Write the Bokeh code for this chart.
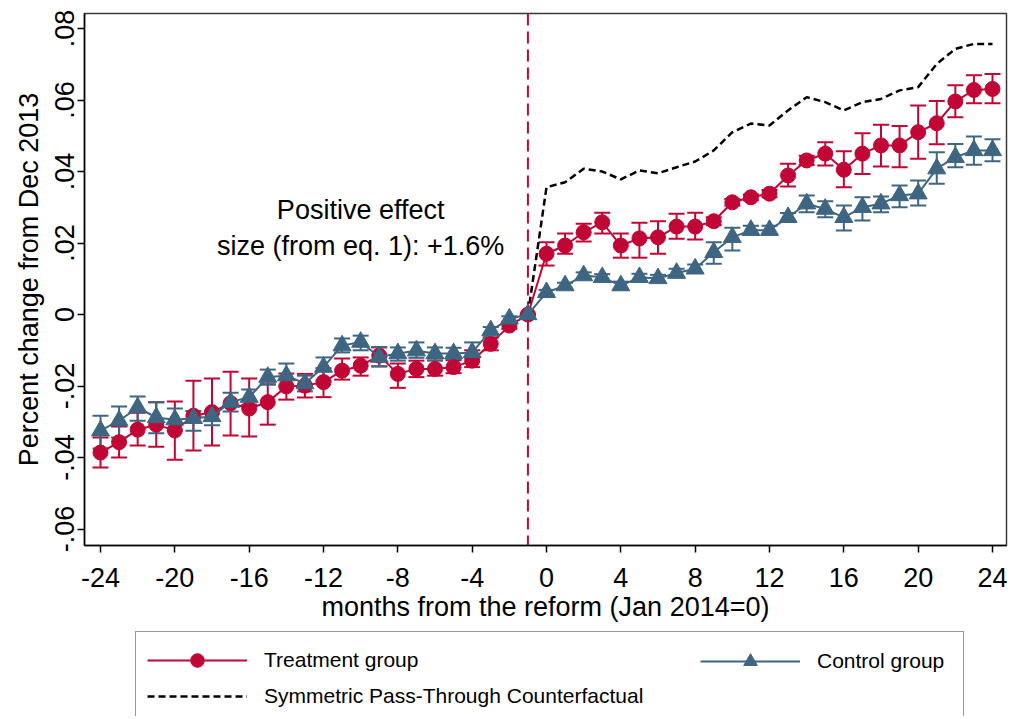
from bokeh.plotting import figure
from bokeh.layouts import column
from bokeh.models import (ColumnDataSource, Range1d, FixedTicker, CustomJSTickFormatter,
                          Whisker, TeeHead, Span, Label, Legend, LegendItem)
from bokeh.embed import file_html
from bokeh.resources import INLINE

# ---------------- data ----------------
months = list(range(-24, 25))

treat = [-0.0386, -0.0357, -0.0322, -0.0308, -0.0324, -0.0283, -0.0273, -0.0248, -0.0263, -0.0245,
         -0.0201, -0.0199, -0.0189, -0.0157, -0.0143, -0.0115, -0.0166, -0.0152, -0.0152, -0.0147,
         -0.0129, -0.0082, -0.0031, 0.0,
         0.0170, 0.0193, 0.0230, 0.0258, 0.0193, 0.0213, 0.0216, 0.0246, 0.0246, 0.0261,
         0.0314, 0.0328, 0.0338, 0.0389, 0.0431, 0.0450, 0.0405, 0.0450, 0.0473, 0.0473,
         0.0510, 0.0535, 0.0596, 0.0628, 0.0631]
treat_lo = [-0.0428, -0.0400, -0.0366, -0.0370, -0.0406, -0.0380, -0.0366, -0.0338, -0.0341, -0.0308,
            -0.0238, -0.0232, -0.0231, -0.0182, -0.0171, -0.0145, -0.0205, -0.0175, -0.0171, -0.0164,
            -0.0147, -0.0100, -0.0040, 0.0,
            0.0137, 0.0170, 0.0204, 0.0227, 0.0159, 0.0159, 0.0170, 0.0212, 0.0210, 0.0250,
            0.0305, 0.0320, 0.0328, 0.0358, 0.0418, 0.0417, 0.0356, 0.0393, 0.0414, 0.0412,
            0.0436, 0.0476, 0.0552, 0.0591, 0.0591]
treat_hi = [-0.0344, -0.0313, -0.0275, -0.0245, -0.0243, -0.0185, -0.0179, -0.0160, -0.0179, -0.0195,
            -0.0165, -0.0166, -0.0150, -0.0123, -0.0120, -0.0092, -0.0137, -0.0129, -0.0123, -0.0128,
            -0.0100, -0.0064, -0.0022, 0.0,
            0.0202, 0.0227, 0.0254, 0.0285, 0.0227, 0.0257, 0.0261, 0.0282, 0.0285, 0.0272,
            0.0323, 0.0336, 0.0348, 0.0422, 0.0444, 0.0482, 0.0457, 0.0507, 0.0531, 0.0527,
            0.0585, 0.0597, 0.0641, 0.0669, 0.0673]

control = [-0.0325, -0.0297, -0.0260, -0.0288, -0.0294, -0.0290, -0.0285, -0.0245, -0.0231, -0.0175,
           -0.0171, -0.0193, -0.0147, -0.0087, -0.0077, -0.0119, -0.0109, -0.0101, -0.0109, -0.0109,
           -0.0106, -0.0045, -0.0012, 0.0,
           0.0062, 0.0081, 0.0109, 0.0104, 0.0081, 0.0104, 0.0101, 0.0116, 0.0128, 0.0174,
           0.0216, 0.0236, 0.0236, 0.0272, 0.0310, 0.0295, 0.0272, 0.0300, 0.0310, 0.0333,
           0.0338, 0.0408, 0.0440, 0.0459, 0.0459]
control_lo = [-0.0375, -0.0344, -0.0297, -0.0332, -0.0325, -0.0325, -0.0310, -0.0271, -0.0252, -0.0196,
              -0.0199, -0.0215, -0.0185, -0.0106, -0.0100, -0.0145, -0.0129, -0.0121, -0.0129, -0.0125,
              -0.0120, -0.0055, -0.0020, 0.0,
              0.0055, 0.0073, 0.0100, 0.0095, 0.0070, 0.0094, 0.0091, 0.0104, 0.0116, 0.0142,
              0.0179, 0.0224, 0.0224, 0.0260, 0.0286, 0.0272, 0.0235, 0.0263, 0.0286, 0.0300,
              0.0305, 0.0366, 0.0412, 0.0419, 0.0429]
control_hi = [-0.0283, -0.0257, -0.0229, -0.0245, -0.0263, -0.0270, -0.0270, -0.0219, -0.0210, -0.0154,
              -0.0137, -0.0171, -0.0120, -0.0067, -0.0059, -0.0091, -0.0092, -0.0078, -0.0092, -0.0093,
              -0.0078, -0.0035, -0.0005, 0.0,
              0.0069, 0.0089, 0.0118, 0.0113, 0.0092, 0.0114, 0.0111, 0.0128, 0.0140, 0.0202,
              0.0243, 0.0248, 0.0248, 0.0284, 0.0333, 0.0317, 0.0305, 0.0328, 0.0330, 0.0361,
              0.0375, 0.0454, 0.0477, 0.0498, 0.0490]

cf_months = list(range(-1, 25))
counterfactual = [0.0, 0.0356, 0.0370, 0.0408, 0.0400, 0.0378, 0.0403, 0.0395, 0.0412, 0.0428,
                  0.0459, 0.0510, 0.0534, 0.0529, 0.0571, 0.0608, 0.0594, 0.0571, 0.0594, 0.0603,
                  0.0627, 0.0636, 0.0701, 0.0743, 0.0757, 0.0757]

x_ticks = [-24, -20, -16, -12, -8, -4, 0, 4, 8, 12, 16, 20, 24]
y_ticks = [-0.06, -0.04, -0.02, 0.0, 0.02, 0.04, 0.06, 0.08]
reform_month = -1

# ---------------- style ----------------
RED = "#C10534"
BLUE = "#3E6581"
FONT = "Liberation Sans"
W = 1008

src_t = ColumnDataSource(dict(m=months, y=treat, lo=treat_lo, hi=treat_hi))
src_c = ColumnDataSource(dict(m=months, y=control, lo=control_lo, hi=control_hi))
src_cf = ColumnDataSource(dict(m=cf_months, y=counterfactual))

p = figure(width=W, height=628, output_backend="svg", toolbar_location=None,
           x_range=Range1d(-24.861, 24.753), y_range=Range1d(-0.0646, 0.0842),
           min_border_left=84, min_border_right=2, min_border_top=13, min_border_bottom=83)
p.xgrid.visible = False
p.ygrid.visible = False
p.outline_line_color = "#3a3a3a"
p.outline_line_width = 1.5
p.background_fill_color = "white"
p.border_fill_color = "white"

for ax in (p.xaxis[0], p.yaxis[0]):
    ax.axis_line_color = "black"
    ax.axis_line_width = 1.5
    ax.major_tick_line_color = "black"
    ax.major_tick_line_width = 1.5
    ax.major_tick_out = 7
    ax.major_tick_in = 0
    ax.minor_tick_line_color = None
    ax.major_label_text_font = FONT
    ax.major_label_text_font_size = "27px"
    ax.major_label_text_color = "black"
    ax.axis_label_text_font = FONT
    ax.axis_label_text_font_size = "27px"
    ax.axis_label_text_font_style = "normal"
    ax.axis_label_text_color = "black"

p.xaxis.ticker = FixedTicker(ticks=x_ticks)
p.xaxis.formatter = CustomJSTickFormatter(code="return Math.round(tick).toString();")
p.xaxis.axis_label = "months from the reform (Jan 2014=0)"
p.xaxis.major_label_standoff = 15
p.xaxis.axis_label_standoff = 2

p.yaxis.ticker = FixedTicker(ticks=y_ticks)
p.yaxis.formatter = CustomJSTickFormatter(code="""
    const v = Math.round(tick * 100) / 100;
    if (v === 0) { return "0"; }
    const s = Math.abs(v).toFixed(2).replace(/^0/, "");
    return (v < 0 ? "-" : "") + s;
""")
p.yaxis.major_label_orientation = "parallel"
p.yaxis.axis_label = "Percent change from Dec 2013"
p.yaxis.major_label_standoff = 3
p.yaxis.axis_label_standoff = 9

p.add_layout(Span(location=reform_month, dimension="height", line_color=RED,
                  line_width=2, line_dash="12 6", level="underlay"))

for src, col in ((src_t, RED), (src_c, BLUE)):
    p.add_layout(Whisker(source=src, base="m", lower="lo", upper="hi", dimension="height",
                         line_color=col, line_width=2,
                         lower_head=TeeHead(size=16, line_color=col, line_width=2),
                         upper_head=TeeHead(size=16, line_color=col, line_width=2)))

p.line("m", "y", source=src_cf, line_color="black", line_width=2.5, line_dash="7 4")
p.line("m", "y", source=src_t, line_color=RED, line_width=2)
p.scatter("m", "y", source=src_t, marker="circle", size=15, fill_color=RED, line_color=RED)
p.line("m", "y", source=src_c, line_color=BLUE, line_width=2)
p.scatter("m", "y", source=src_c, marker="triangle", size=18, fill_color=BLUE, line_color=BLUE)

p.add_layout(Label(x=-10, y=0.0291, text="Positive effect", text_align="center",
                   text_baseline="middle", text_font=FONT, text_font_size="27px",
                   text_color="black"))
p.add_layout(Label(x=-10, y=0.0193, text="size (from eq. 1): +1.6%", text_align="center",
                   text_baseline="middle", text_font=FONT, text_font_size="27px",
                   text_color="black"))

# ---------------- legend panel (same series, drawn outside its visible range) ----------------
lg = figure(width=W, height=88, output_backend="svg", toolbar_location=None,
            x_range=Range1d(1000, 1001), y_range=Range1d(1000, 1001),
            x_axis_type=None, y_axis_type=None,
            min_border_left=0, min_border_right=0, min_border_top=0, min_border_bottom=0)
lg.xgrid.visible = False
lg.ygrid.visible = False
lg.outline_line_color = None
lg.background_fill_color = "white"
lg.border_fill_color = "white"

k_t_line = lg.line("m", "y", source=src_t, line_color=RED, line_width=2)
k_t_pts = lg.scatter("m", "y", source=src_t, marker="circle", size=15, fill_color=RED, line_color=RED)
k_c_line = lg.line("m", "y", source=src_c, line_color=BLUE, line_width=2)
k_c_pts = lg.scatter("m", "y", source=src_c, marker="triangle", size=18, fill_color=BLUE, line_color=BLUE)
k_cf = lg.line("m", "y", source=src_cf, line_color="black", line_width=2.5, line_dash="7 4")

common = dict(glyph_width=100, glyph_height=34, label_height=34, label_standoff=17,
              spacing=2, padding=11, margin=0, label_text_font=FONT,
              label_text_font_size="21px", label_text_color="black", orientation="vertical")
leg1 = Legend(items=[LegendItem(label="Treatment group", renderers=[k_t_line, k_t_pts]),
                     LegendItem(label="Symmetric Pass-Through Counterfactual", renderers=[k_cf])],
              location=(51, -9), label_width=688,
              border_line_color="#333333", border_line_width=1.5,
              background_fill_color="white", background_fill_alpha=1.0, **common)
leg2 = Legend(items=[LegendItem(label="Control group", renderers=[k_c_line, k_c_pts])],
              location=(605, 27), label_width=20,
              border_line_alpha=0, background_fill_alpha=0.0, **common)
lg.add_layout(leg1, "center")
lg.add_layout(leg2, "center")

page = column(p, lg, spacing=0)
open("out.html", "w").write(file_html(page, INLINE))
